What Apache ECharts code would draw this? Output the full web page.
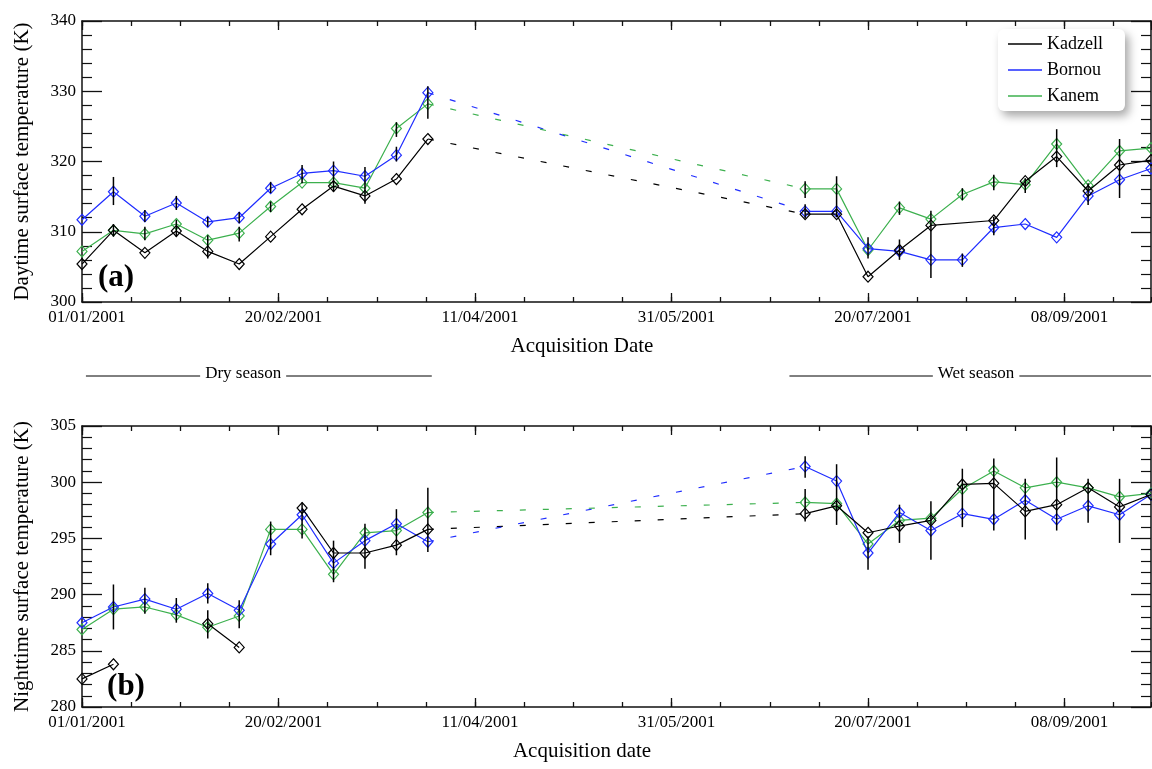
<!DOCTYPE html>
<html>
<head>
<meta charset="utf-8">
<script src="https://cdn.jsdelivr.net/npm/echarts@6/dist/echarts.min.js"></script>
<style>
  html, body { margin: 0; padding: 0; background: #ffffff; }
  #chart { width: 1152px; height: 769px; }
</style>
</head>
<body>
<div id="chart"></div>
<script>
// Start of each 8-day composite, in days since 01/01/2001
const dryDays = [0, 8, 16, 24, 32, 40, 48, 56, 64, 72, 80, 88];
const wetDays = [184, 192, 200, 208, 216, 224, 232, 240, 248, 256, 264, 272];

// Daytime land surface temperature (K)
const kadzellDayDry = [305.4, 310.2, 307.0, 310.1, 307.2, 305.4, 309.3, 313.2, 316.5, 315.1, 317.5, 323.2];
const bornouDayDry  = [311.7, 315.7, 312.2, 314.1, 311.4, 312.0, 316.2, 318.3, 318.7, 317.9, 320.9, 329.8];
const kanemDayDry   = [307.2, 310.2, 309.7, 311.1, 308.8, 309.8, 313.6, 317.0, 317.0, 316.2, 324.7, 328.2];
const kadzellDayWet = [312.5, 312.5, 303.6, 307.4, 310.9, null, 311.6, 317.2, 320.7, 315.8, 319.5, 320.2];
const bornouDayWet  = [312.9, 312.9, 307.6, 307.2, 306.0, 306.0, 310.6, 311.1, 309.2, 315.1, 317.4, 319.0];
const kanemDayWet   = [316.1, 316.1, 307.4, 313.4, 311.8, 315.3, 317.1, 316.7, 322.5, 316.6, 321.5, 321.9];

// Nighttime land surface temperature (K)
const kadzellNightDry = [282.5, 283.8, null, null, 287.4, 285.3, null, 297.7, 293.7, 293.7, 294.4, 295.8];
const bornouNightDry  = [287.5, 288.9, 289.6, 288.7, 290.1, 288.6, 294.5, 297.1, 292.8, 294.8, 296.3, 294.7];
const kanemNightDry   = [286.9, 288.7, 288.9, 288.2, 287.1, 288.1, 295.8, 295.8, 291.8, 295.5, 295.7, 297.3];
const kadzellNightWet = [297.2, 297.9, 295.5, 296.1, 296.6, 299.8, 299.9, 297.4, 298.0, 299.5, 297.8, 298.9];
const bornouNightWet  = [301.4, 300.1, 293.7, 297.3, 295.7, 297.2, 296.7, 298.4, 296.7, 297.9, 297.1, 298.9];
const kanemNightWet   = [298.2, 298.1, 294.5, 296.6, 296.8, 299.4, 301.0, 299.5, 300.0, 299.5, 298.7, 299.0];

// Spread whiskers: [day, low K, high K]
const errDay = [
  [8, 313.8, 317.8], [8, 309.3, 311.1], [16, 311.4, 313.1], [16, 308.8, 310.7],
  [24, 313.1, 315.1], [24, 309.3, 311.7], [32, 310.7, 312.1], [32, 306.2, 309.5],
  [40, 311.2, 312.8], [40, 308.6, 310.7], [48, 315.5, 317.1], [48, 312.8, 314.3],
  [56, 316.9, 319.5], [64, 315.7, 320.0], [72, 314.0, 319.2], [80, 323.5, 325.6],
  [80, 320.0, 322.1], [88, 326.1, 330.7],
  [184, 314.8, 317.2], [184, 311.9, 313.9], [192, 312.1, 317.9], [200, 306.2, 309.2],
  [208, 312.4, 314.3], [208, 306.0, 308.9], [216, 303.4, 313.0], [224, 314.5, 316.2],
  [224, 305.0, 306.9], [232, 315.9, 318.1], [232, 309.5, 312.1], [240, 315.5, 317.6],
  [248, 319.2, 324.6], [256, 313.8, 316.9], [264, 314.8, 323.2]
];
const errNight = [
  [8, 286.9, 290.9], [16, 288.3, 290.6], [24, 287.5, 289.7], [32, 289.2, 291.0],
  [32, 286.1, 288.6], [40, 287.0, 289.5], [48, 293.5, 296.5], [56, 295.0, 298.2],
  [64, 291.1, 294.8], [72, 292.3, 296.3], [80, 293.5, 297.6], [88, 293.8, 299.5],
  [184, 300.4, 302.3], [184, 296.5, 299.4], [192, 296.2, 301.6], [200, 292.2, 295.2],
  [208, 294.6, 298.0], [216, 293.1, 298.3], [224, 296.0, 301.2], [232, 295.7, 302.1],
  [240, 294.9, 300.3], [248, 295.7, 302.2], [256, 296.4, 300.3], [264, 294.6, 300.3]
];

const siteNames = ['Kadzell', 'Bornou', 'Kanem'];
const siteColors = ['#000000', '#1f2dff', '#3cb04e'];

const seasons = [
  { label: 'Dry season', from: 1, to: 89, at: 41 },
  { label: 'Wet season', from: 180, to: 272, at: 227.5 }
];

const SERIF = '"Liberation Serif", "Times New Roman", serif';
const X_MAX = 272;

const panels = [
  {
    top: 21, yMin: 300, yMax: 340, yStep: 10,
    yName: 'Daytime surface temperature (K)', xName: 'Acquisition Date',
    dry: [kadzellDayDry, bornouDayDry, kanemDayDry],
    wet: [kadzellDayWet, bornouDayWet, kanemDayWet],
    err: errDay, tag: '(a)'
  },
  {
    top: 426, yMin: 280, yMax: 305, yStep: 5,
    yName: 'Nighttime surface temperature (K)', xName: 'Acquisition date',
    dry: [kadzellNightDry, bornouNightDry, kanemNightDry],
    wet: [kadzellNightWet, bornouNightWet, kanemNightWet],
    err: errNight, tag: '(b)'
  }
];

function fmtDate(d) {
  const t = new Date(Date.UTC(2001, 0, 1) + Math.round(d) * 86400000);
  const dd = String(t.getUTCDate()).padStart(2, '0');
  const mm = String(t.getUTCMonth() + 1).padStart(2, '0');
  return dd + '/' + mm + '/' + t.getUTCFullYear();
}

const AXIS_COLOR = '#111';
const frameLine = (show) => ({ show, onZero: false, lineStyle: { color: AXIS_COLOR, width: 1.5 } });
const grids = [], xAxes = [], yAxes = [], series = [];

panels.forEach((p, g) => {
  grids.push({ left: 82, right: 1, top: p.top, height: 281, containLabel: false });

  const xAxis = (position, interval, tickLen, withLine, labels) => ({
    type: 'value', gridIndex: g, min: 0, max: X_MAX, interval, position,
    splitLine: { show: false },
    axisLine: frameLine(withLine),
    axisTick: { inside: true, length: tickLen, lineStyle: { color: AXIS_COLOR, width: 1.3 } },
    axisLabel: labels
      ? { formatter: fmtDate, showMaxLabel: false, margin: 7, padding: [0, 0, 0, 10],
          color: '#000', fontFamily: SERIF, fontSize: 17 }
      : { show: false }
  });
  const mainX = xAxes.length;
  xAxes.push(xAxis('bottom', 50, 9, true, true));    // labelled major ticks
  xAxes.push(xAxis('bottom', 12.5, 5, false, false)); // minor ticks
  xAxes.push(xAxis('top', 50, 9, true, false));
  xAxes.push(xAxis('top', 12.5, 5, false, false));

  const yAxis = (position, labelled) => Object.assign({
    type: 'value', gridIndex: g, min: p.yMin, max: p.yMax, interval: p.yStep, position,
    splitLine: { show: false },
    axisLine: frameLine(true),
    axisTick: { inside: true, length: 20, lineStyle: { color: AXIS_COLOR, width: 1.3 } },
    minorTick: { show: true, splitNumber: 5, length: 10, lineStyle: { color: AXIS_COLOR, width: 1.2 } },
    axisLabel: labelled ? { margin: 6, color: '#000', fontFamily: SERIF, fontSize: 17 } : { show: false }
  }, labelled ? {
    name: p.yName, nameLocation: 'middle', nameGap: 49,
    nameTextStyle: { color: '#000', fontFamily: SERIF, fontSize: 21 }
  } : {});
  const mainY = yAxes.length;
  yAxes.push(yAxis('left', true));
  yAxes.push(yAxis('right', false));

  siteNames.forEach((name, s) => {
    const dry = p.dry[s], wet = p.wet[s], color = siteColors[s];
    const lineSeries = (vals, days) => ({
      name, type: 'line', xAxisIndex: mainX, yAxisIndex: mainY,
      data: days.map((d, i) => [d, vals[i]]),
      connectNulls: g === 0,
      symbol: 'diamond', symbolSize: [10, 11],
      itemStyle: { color: 'transparent', borderColor: color, borderWidth: 1.2 },
      lineStyle: { color, width: 1.2 },
      emphasis: { disabled: true }, animation: false, z: 5 - s * 0.1
    });
    series.push(lineSeries(dry, dryDays));
    series.push(lineSeries(wet, wetDays));
    // dashed link across the data gap between seasons
    series.push({
      name: name + ' gap', type: 'line', xAxisIndex: mainX, yAxisIndex: mainY,
      data: [[dryDays[dryDays.length - 1], dry[dry.length - 1]], [wetDays[0], wet[0]]],
      symbol: 'none', lineStyle: { color, width: 1.2, type: [6, 17] },
      emphasis: { disabled: true }, animation: false, z: 2
    });
  });

  series.push({
    name: 'spread ' + g, type: 'custom', xAxisIndex: mainX, yAxisIndex: mainY,
    data: p.err, encode: { x: 0, y: [1, 2] }, animation: false, z: 10,
    renderItem: (params, api) => {
      const a = api.coord([api.value(0), api.value(1)]);
      const b = api.coord([api.value(0), api.value(2)]);
      return { type: 'line', shape: { x1: a[0], y1: a[1], x2: b[0], y2: b[1] },
               style: { stroke: '#000', lineWidth: 1.5 } };
    }
  });
});

const chart = echarts.init(document.getElementById('chart'), null, { renderer: 'canvas' });
chart.setOption({
  animation: false,
  backgroundColor: '#ffffff',
  grid: grids, xAxis: xAxes, yAxis: yAxes, series,
  legend: {
    data: siteNames.map((n, i) => ({ name: n, itemStyle: { color: siteColors[i], borderWidth: 0 } })),
    orient: 'vertical', left: 998, top: 29,
    icon: 'rect', itemWidth: 34, itemHeight: 1.4, itemGap: 8,
    padding: [6, 22, 6, 10],
    backgroundColor: '#ffffff', borderRadius: 6,
    shadowBlur: 10, shadowColor: 'rgba(0,0,0,0.35)', shadowOffsetX: 4, shadowOffsetY: 5,
    textStyle: { color: '#000', fontFamily: SERIF, fontSize: 18 },
    selectedMode: false
  }
});

// Annotations placed from axis coordinates
const measure = document.createElement('canvas').getContext('2d');
const graphics = [];
panels.forEach((p, g) => {
  const x0 = chart.convertToPixel({ xAxisIndex: g * 4 }, 0);
  const yBottom = chart.convertToPixel({ yAxisIndex: g * 2 }, p.yMin);
  graphics.push({
    type: 'text', x: 582, y: yBottom + 44,
    style: { text: p.xName, font: '21px ' + SERIF, fill: '#000', align: 'center', verticalAlign: 'middle' }
  });
  graphics.push({
    type: 'text', x: x0 + (g === 0 ? 34 : 44), y: yBottom - (g === 0 ? 24 : 20),
    style: { text: p.tag, font: 'bold 31px ' + SERIF, fill: '#000', align: 'center', verticalAlign: 'middle' }
  });
});
const seasonY = 376;
measure.font = '17px ' + SERIF;
seasons.forEach(s => {
  const xa = chart.convertToPixel({ xAxisIndex: 0 }, s.from);
  const xb = chart.convertToPixel({ xAxisIndex: 0 }, s.to);
  const xc = chart.convertToPixel({ xAxisIndex: 0 }, s.at);
  const half = measure.measureText(s.label).width / 2 + 5;
  graphics.push({ type: 'line', shape: { x1: xa, y1: seasonY, x2: xc - half, y2: seasonY }, style: { stroke: '#000', lineWidth: 1 } });
  graphics.push({ type: 'line', shape: { x1: xc + half, y1: seasonY, x2: xb, y2: seasonY }, style: { stroke: '#000', lineWidth: 1 } });
  graphics.push({
    type: 'text', x: xc, y: seasonY - 2,
    style: { text: s.label, font: '17px ' + SERIF, fill: '#000', align: 'center', verticalAlign: 'middle' }
  });
});
chart.setOption({ graphic: graphics });
</script>
</body>
</html>
